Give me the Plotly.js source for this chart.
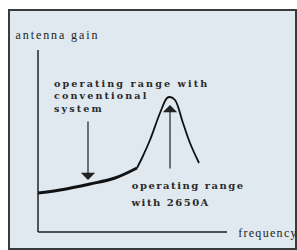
<!DOCTYPE html>
<html><head><meta charset="utf-8">
<script src="https://cdn.plot.ly/plotly-3.0.1.min.js"></script>
<style>
html,body{margin:0;padding:0;background:#fff}#c{width:297px;height:250px}
g.annotation[data-index="0"] text{letter-spacing:2.1px}
g.annotation[data-index="1"] text, g.annotation[data-index="2"] text{letter-spacing:1.5px}
g.annotation[data-index="3"] text{letter-spacing:1.9px}
g.annotation[data-index="4"] text{letter-spacing:1.3px}
</style>
</head><body><div id="c"></div>
<script>
// conventional range (thick segment)
const convFreq = [0, 22, 52, 77, 99];
const convGain = [39, 42, 48, 54, 64];
// resonant peak of 2650A (thin segment)
const peakFreq = [99, 104, 112, 122, 129, 132, 137, 145, 152, 161];
const peakGain = [64, 74, 92, 119, 134, 135, 132, 109, 89, 69];
const labelConv = ["operating range with", "conventional", "system"];
const labelNew = ["operating range", "with 2650A"];
const yTitle = "antenna gain";
const xTitle = "frequency";

const serif = "DejaVu Serif, serif";
const txt = "#2a2a2a";
const L = 38, T = 50, R = 70, B = 18, W = 297, H = 250;
const pw = W - L - R, ph = H - T - B;
const px = v => (v - L) / pw;
const py = v => (H - B - v) / ph;

const ann = [];
ann.push({x: px(52), y: py(76), xref: 'paper', yref: 'paper', text: labelConv.join('<br>'), align: 'left', showarrow: false, xanchor: 'left', yanchor: 'top', font: {family: serif, size: 9.6, color: txt, weight: 'bold'}});
const newCenters = [188, 170];
labelNew.forEach((s, i) => ann.push({x: px(newCenters[i]), y: py(185 + i * 17), xref: 'paper', yref: 'paper', text: s, showarrow: false, xanchor: 'center', yanchor: 'middle', font: {family: serif, size: 10, color: txt, weight: 'bold'}}));
ann.push({x: px(57.5), y: py(35), xref: 'paper', yref: 'paper', text: yTitle, showarrow: false, xanchor: 'center', yanchor: 'middle', font: {family: "Liberation Serif, serif", size: 12, color: '#1e1e1e'}});
ann.push({x: px(268), y: py(233), xref: 'paper', yref: 'paper', text: xTitle, showarrow: false, xanchor: 'center', yanchor: 'middle', font: {family: "Liberation Serif, serif", size: 12, color: '#1e1e1e'}});
// arrows
ann.push({x: 50, y: 52, ax: 50, ay: 112, xref: 'x', yref: 'y', axref: 'x', ayref: 'y', showarrow: true, arrowhead: 1, arrowsize: 2, arrowwidth: 1.2, arrowcolor: '#222', text: ''});
ann.push({x: 132, y: 127, ax: 132, ay: 62, xref: 'x', yref: 'y', axref: 'x', ayref: 'y', showarrow: true, arrowhead: 1, arrowsize: 2, arrowwidth: 1.2, arrowcolor: '#222', text: ''});

const data = [
  {x: convFreq, y: convGain, mode: 'lines', line: {color: '#111', width: 3, shape: 'spline'}, hoverinfo: 'skip'},
  {x: peakFreq, y: peakGain, mode: 'lines', line: {color: '#111', width: 1.8, shape: 'spline'}, hoverinfo: 'skip'}
];
const layout = {
  width: W, height: H, showlegend: false,
  margin: {l: L, r: R, t: T, b: B, pad: 0},
  paper_bgcolor: '#fff', plot_bgcolor: 'rgba(0,0,0,0)',
  xaxis: {range: [0, pw], showgrid: false, zeroline: false, showticklabels: false, ticks: '', showline: false, fixedrange: true},
  yaxis: {range: [0, ph], showgrid: false, zeroline: false, showticklabels: false, ticks: '', showline: false, fixedrange: true},
  shapes: [
    {type: 'rect', xref: 'paper', yref: 'paper', x0: px(9), x1: px(296), y0: py(249), y1: py(10), fillcolor: '#dfe9ef', line: {color: '#3a3a3a', width: 2}, layer: 'below'},
    {type: 'line', xref: 'paper', yref: 'paper', x0: px(38), x1: px(38), y0: py(232), y1: py(50), line: {color: '#222', width: 1.5}},
    {type: 'line', xref: 'paper', yref: 'paper', x0: px(38), x1: px(227), y0: py(232), y1: py(232), line: {color: '#222', width: 1.5}}
  ],
  annotations: ann
};
Plotly.newPlot('c', data, layout, {staticPlot: true, displayModeBar: false});
</script></body></html>
